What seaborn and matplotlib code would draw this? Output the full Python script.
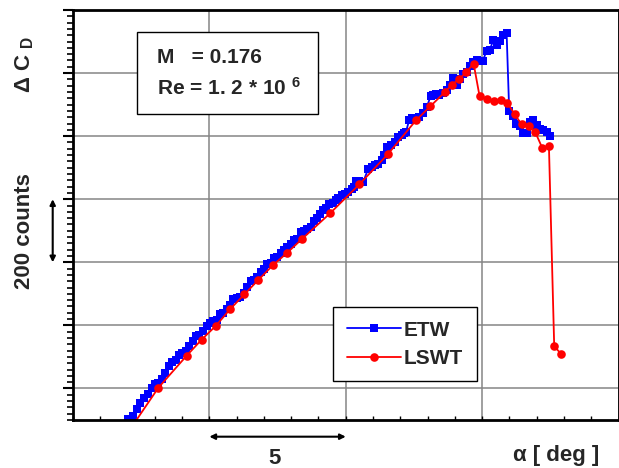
import matplotlib.pyplot as plt
import seaborn as sns
from matplotlib.patches import Rectangle
from matplotlib.ticker import MultipleLocator

# ETW (blue squares): angle of attack [deg] and delta CD [counts]
etw_alpha = [2.005, 2.210, 2.335, 2.456, 2.603, 2.738, 2.885, 3.006, 3.127, 3.251,
             3.372, 3.519, 3.640, 3.765, 3.886, 4.007, 4.142, 4.252, 4.388, 4.509,
             4.630, 4.754, 4.901, 5.022, 5.143, 5.268, 5.389, 5.510, 5.634, 5.755,
             5.876, 6.001, 6.122, 6.268, 6.389, 6.514, 6.635, 6.756, 6.881, 7.001,
             7.122, 7.247, 7.368, 7.489, 7.614, 7.735, 7.856, 7.980, 8.101, 8.222,
             8.347, 8.468, 8.589, 8.713, 8.834, 8.955, 9.055, 9.153, 9.274, 9.395,
             9.520, 9.641, 9.724, 9.850, 9.971, 10.092, 10.216, 10.300, 10.374, 10.495,
             10.642, 10.825, 10.950, 11.070, 11.191, 11.316, 11.420, 11.521, 11.646, 11.804,
             11.925, 12.049, 12.140, 12.207, 12.328, 12.430, 12.537, 12.694, 12.841, 12.966,
             13.112, 13.200, 13.306, 13.427, 13.574, 13.699, 13.820, 13.941, 14.065, 14.186,
             14.307, 14.432, 14.553, 14.674, 14.798, 14.919, 15.018, 15.165, 15.286, 15.407,
             15.554, 15.652, 15.774, 15.898, 15.993, 16.118, 16.239, 16.386, 16.507, 16.631,
             16.752, 16.873, 16.998, 17.119, 17.240, 17.364, 17.485]
etw_counts = [-96, -88, -64, -45, -29, -19, 2, 15, 18, 31,
              50, 70, 83, 89, 107, 111, 118, 134, 150, 165,
              171, 181, 199, 208, 213, 216, 237, 239, 252, 265,
              284, 287, 290, 304, 323, 342, 344, 353, 368, 378,
              395, 399, 413, 418, 429, 439, 450, 458, 471, 473,
              497, 500, 506, 512, 532, 539, 553, 566, 571, 585,
              588, 596, 603, 613, 618, 624, 634, 640, 658, 657,
              655, 697, 703, 708, 713, 724, 740, 766, 771, 782,
              797, 803, 810, 813, 852, 856, 859, 861, 873, 892,
              926, 930, 934, 929, 936, 945, 961, 985, 961, 982,
              998, 1003, 1024, 1034, 1042, 1037, 1037, 1071, 1074, 1105,
              1090, 1101, 1122, 1127, 879, 863, 837, 831, 810, 810,
              845, 852, 834, 824, 821, 813, 800]

# LSWT (red circles)
lswt_alpha = [2.09, 3.127, 4.168, 4.718, 5.242, 5.755, 6.279, 6.793, 7.331, 7.863,
              8.383, 9.421, 10.495, 11.536, 12.573, 13.105, 13.625, 13.893, 14.150, 14.413,
              14.688, 14.908, 15.176, 15.425, 15.678, 15.920, 16.191, 16.448, 16.705, 16.947,
              17.203, 17.449, 17.643, 17.889]
lswt_counts = [-130, 2, 104, 155, 199, 251, 298, 344, 391, 431,
               473, 555, 647, 742, 850, 895, 939, 963, 981, 1002,
               1030, 926, 919, 910, 916, 906, 870, 837, 832, 813,
               763, 769, 134, 110]

sns.set_style('white')
plt.rcParams['font.family'] = ['Liberation Sans', 'DejaVu Sans']
plt.rcParams['font.weight'] = 'bold'
plt.rcParams['mathtext.fontset'] = 'custom'
plt.rcParams['mathtext.rm'] = 'Liberation Sans:bold'
plt.rcParams['mathtext.it'] = 'Liberation Sans:bold'
plt.rcParams['mathtext.bf'] = 'Liberation Sans:bold'

fig = plt.figure(figsize=(6.19, 4.68), dpi=100)
ax = fig.add_axes([73 / 619, 48 / 468, 545.5 / 619, 410 / 468])

sns.lineplot(x=etw_alpha, y=etw_counts, ax=ax, estimator=None, sort=False,
             color='#0000ff', lw=1.3, marker='s', markersize=5.6, markeredgewidth=0,
             label='ETW')
sns.lineplot(x=lswt_alpha, y=lswt_counts, ax=ax, estimator=None, sort=False,
             color='#ff0000', lw=1.3, marker='o', markersize=6.2, markeredgewidth=0,
             label='LSWT')

ax.set_xlim(0, 20)
ax.set_ylim(-100, 1200)
ax.xaxis.set_major_locator(MultipleLocator(5))
ax.xaxis.set_minor_locator(MultipleLocator(1))
ax.yaxis.set_major_locator(MultipleLocator(200))
ax.yaxis.set_minor_locator(MultipleLocator(20))
ax.grid(which='major', color='#858585', lw=1.1)
ax.set_axisbelow(True)
ax.set_xlabel('')
ax.set_ylabel('')
ax.tick_params(labelbottom=False, labelleft=False)
ax.tick_params(axis='y', which='major', direction='out', length=7, width=1.5,
               left=True, color='black')
ax.tick_params(axis='y', which='minor', direction='out', length=4, width=1.2,
               left=True, color='black')
ax.tick_params(axis='x', which='both', direction='in', length=3, width=1,
               bottom=True, color='black')
for s in ax.spines.values():
    s.set_color('black')
    s.set_linewidth(2)

leg = ax.legend(loc='upper left', bbox_to_anchor=(0.4766, 0.2756), fontsize=15,
                frameon=True, fancybox=False, edgecolor='black', framealpha=1,
                borderaxespad=0, handlelength=2.6, borderpad=0.65,
                labelspacing=0.45, handletextpad=0.15)
leg.get_frame().set_linewidth(1)

# parameter box
ax.add_patch(Rectangle((0.117, 0.746), 0.332, 0.201, transform=ax.transAxes,
                       facecolor='white', edgecolor='black', lw=1, zorder=3))
ax.text(0.154, 0.885, 'M   = 0.176', transform=ax.transAxes, va='center',
        fontsize=15, fontweight='bold', zorder=4)
ax.text(0.154, 0.810, 'Re = 1. 2 * 10 $^{\\rm 6}$', transform=ax.transAxes,
        va='center', fontsize=15, fontweight='bold', zorder=4)

# axis labels and scale arrows
fig.text(25 / 619, 1 - 64 / 468, 'Δ C $_{\\rm D}$', rotation=90, ha='center',
         va='center', fontsize=16, fontweight='bold')
fig.text(25 / 619, 1 - 231 / 468, '200 counts', rotation=90, ha='center',
         va='center', fontsize=16, fontweight='bold')
ax.annotate('', xy=(-0.0372, 400), xytext=(-0.0372, 600),
            xycoords=ax.get_yaxis_transform(), annotation_clip=False,
            arrowprops=dict(arrowstyle='<|-|>', color='black', lw=1.5,
                            mutation_scale=8, shrinkA=0, shrinkB=0))
ax.annotate('', xy=(10, -0.0407), xytext=(5, -0.0407),
            xycoords=ax.get_xaxis_transform(), annotation_clip=False,
            arrowprops=dict(arrowstyle='<|-|>', color='black', lw=1.5,
                            mutation_scale=8, shrinkA=0, shrinkB=0))
fig.text(275 / 619, 1 - 459 / 468, '5', ha='center', va='center',
         fontsize=16, fontweight='bold')
fig.text(556 / 619, 1 - 455 / 468, 'α [ deg ]', ha='center', va='center',
         fontsize=16, fontweight='bold')

fig.savefig('out.png', dpi=100)
